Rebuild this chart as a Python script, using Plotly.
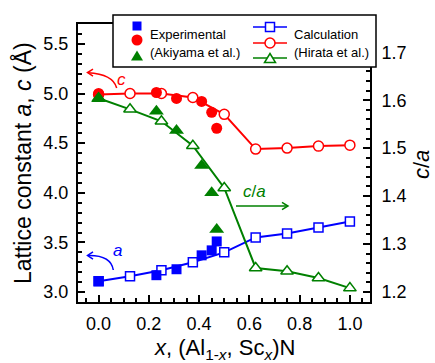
import plotly.graph_objects as go

# ---------------- data ----------------
x_calc = [0.0, 0.125, 0.25, 0.375, 0.5, 0.625, 0.75, 0.875, 1.0]
a_calc = [3.11, 3.16, 3.22, 3.30, 3.40, 3.55, 3.59, 3.65, 3.71]
c_calc = [4.99, 5.00, 5.00, 4.96, 4.79, 4.44, 4.45, 4.47, 4.48]
ca_calc = [1.604, 1.581, 1.556, 1.505, 1.417, 1.250, 1.243, 1.229, 1.208]

x_exp = [0.0, 0.23, 0.31, 0.41, 0.45, 0.47]
a_exp = [3.11, 3.17, 3.23, 3.37, 3.42, 3.51]
c_exp = [5.00, 5.01, 4.95, 4.92, 4.81, 4.65]
ca_exp = [1.603, 1.577, 1.537, 1.464, 1.407, 1.330]

x_ticks = [0.0, 0.2, 0.4, 0.6, 0.8, 1.0]
y_ticks = [3.0, 3.5, 4.0, 4.5, 5.0, 5.5]
y2_ticks = [1.2, 1.3, 1.4, 1.5, 1.6, 1.7]

BLUE = "#0000FF"
RED = "#FF0000"
GREEN = "#008000"
FONT = "Arial, Liberation Sans, sans-serif"

# ---------------- geometry helpers (pixel -> paper) ----------------
W, H = 435, 363
L, R, T, B = 78, 65, 24, 61
PW, PH = W - L - R, H - T - B


def px(X):
    return (X - L) / PW


def py(Y):
    return (H - B - Y) / PH


fig = go.Figure()

# calculation (open markers with lines)
fig.add_trace(go.Scatter(x=x_calc, y=a_calc, mode="lines+markers",
                         line=dict(color=BLUE, width=2),
                         marker=dict(symbol="square", size=9, color="white",
                                     line=dict(color=BLUE, width=1.5)),
                         showlegend=False))
fig.add_trace(go.Scatter(x=x_calc, y=c_calc, mode="lines+markers",
                         line=dict(color=RED, width=2),
                         marker=dict(symbol="circle", size=10, color="white",
                                     line=dict(color=RED, width=1.5)),
                         showlegend=False))
# experimental
fig.add_trace(go.Scatter(x=x_exp, y=a_exp, mode="markers",
                         marker=dict(symbol="square", size=10, color=BLUE),
                         showlegend=False))
fig.add_trace(go.Scatter(x=x_exp, y=c_exp, mode="markers",
                         marker=dict(symbol="circle", size=11, color=RED),
                         showlegend=False))
# c/a on right axis
fig.add_trace(go.Scatter(x=x_calc, y=ca_calc, yaxis="y2", mode="lines+markers",
                         line=dict(color=GREEN, width=2),
                         marker=dict(symbol="triangle-up", size=11, color="white",
                                     line=dict(color=GREEN, width=1.5)),
                         showlegend=False))
fig.add_trace(go.Scatter(x=x_exp, y=ca_exp, yaxis="y2", mode="markers",
                         marker=dict(symbol="triangle-up", size=13, color=GREEN),
                         showlegend=False))

axis_common = dict(showline=True, linecolor="black", linewidth=2, ticks="inside",
                   tickcolor="black", tickwidth=1.5, ticklen=7, showgrid=False,
                   zeroline=False, tickfont=dict(family=FONT, size=18, color="black"))

fig.update_layout(
    width=W, height=H,
    margin=dict(l=L, r=R, t=T, b=B, pad=0),
    paper_bgcolor="white", plot_bgcolor="white",
    showlegend=False,
    xaxis=dict(range=[-0.082, 1.08], tickvals=x_ticks, tickformat=".1f",
               mirror=True, ticklabelstandoff=4,
               minor=dict(dtick=0.05, tick0=0, ticks="inside", ticklen=4,
                          tickwidth=1.5, tickcolor="black"),
               **axis_common),
    yaxis=dict(range=[2.90, 5.70], tickvals=y_ticks, tickformat=".1f",
               ticklabelstandoff=4,
               minor=dict(dtick=0.1, tick0=0, ticks="inside", ticklen=4,
                          tickwidth=1.5, tickcolor="black"),
               **axis_common),
    yaxis2=dict(range=[1.179, 1.759], tickvals=y2_ticks, tickformat=".1f",
                overlaying="y", side="right", ticklabelstandoff=6,
                minor=dict(dtick=0.02, tick0=0, ticks="inside", ticklen=4,
                           tickwidth=1.5, tickcolor="black"),
                **axis_common),
)

shapes = []
# legend box
shapes.append(dict(type="rect", xref="paper", yref="paper", layer="above",
                   x0=px(113), x1=px(376), y0=py(67), y1=py(15),
                   fillcolor="white", line=dict(color="black", width=1.5)))


def sq(X, Y, s, fill, col, lw=0):
    return dict(type="rect", xref="paper", yref="paper", layer="above",
                x0=px(X - s / 2), x1=px(X + s / 2), y0=py(Y + s / 2), y1=py(Y - s / 2),
                fillcolor=fill, line=dict(color=col, width=lw))


def circ(X, Y, d, fill, col, lw=0):
    return dict(type="circle", xref="paper", yref="paper", layer="above",
                x0=px(X - d / 2), x1=px(X + d / 2), y0=py(Y + d / 2), y1=py(Y - d / 2),
                fillcolor=fill, line=dict(color=col, width=lw))


def tri(X, Y, w, h, fill, col, lw=0):
    p = "M {:.5f},{:.5f} L {:.5f},{:.5f} L {:.5f},{:.5f} Z".format(
        px(X - w / 2), py(Y + h / 2), px(X + w / 2), py(Y + h / 2), px(X), py(Y - h / 2))
    return dict(type="path", xref="paper", yref="paper", layer="above", path=p,
                fillcolor=fill, line=dict(color=col, width=lw))


def hline(X0, X1, Y, col):
    return dict(type="line", xref="paper", yref="paper", layer="above",
                x0=px(X0), x1=px(X1), y0=py(Y), y1=py(Y), line=dict(color=col, width=1.5))


def poly(points, col, closed=False):
    p = "M " + " L ".join("{:.5f},{:.5f}".format(px(X), py(Y)) for X, Y in points)
    if closed:
        p += " Z"
    return dict(type="path", xref="paper", yref="paper", layer="above", path=p,
                line=dict(color=col, width=1.5))


# experimental legend symbols
shapes.append(sq(137, 26, 9, BLUE, BLUE))
shapes.append(circ(137, 40, 11, RED, RED))
shapes.append(tri(137, 55.5, 12, 10, GREEN, GREEN))
# calculation legend symbols
shapes.append(hline(253, 287, 27, BLUE))
shapes.append(sq(270, 27, 9, "white", BLUE, 1.5))
shapes.append(hline(253, 287, 43, RED))
shapes.append(circ(270, 43, 10, "white", RED, 1.5))
shapes.append(hline(253, 287, 58, GREEN))
shapes.append(tri(270, 58, 11, 9, "white", GREEN, 1.5))

# curved arrows with open heads
shapes.append(dict(type="path", xref="paper", yref="paper", layer="above",
                   path="M {:.5f},{:.5f} Q {:.5f},{:.5f} {:.5f},{:.5f}".format(
                       px(116.7), py(88), px(113), py(74), px(88), py(72.7)),
                   line=dict(color=RED, width=1.5)))
shapes.append(poly([(93, 69.2), (87.5, 72.6), (93, 76.2)], RED))
shapes.append(dict(type="path", xref="paper", yref="paper", layer="above",
                   path="M {:.5f},{:.5f} Q {:.5f},{:.5f} {:.5f},{:.5f}".format(
                       px(113.3), py(270), px(111), py(255), px(88), py(255.5)),
                   line=dict(color=BLUE, width=1.5)))
shapes.append(poly([(93, 251.8), (87.5, 255.5), (93, 259.2)], BLUE))
# straight c/a arrow
shapes.append(hline(236, 288, 206, GREEN))
shapes.append(poly([(282, 202.3), (288, 206), (282, 209.7)], GREEN))

fig.update_layout(shapes=shapes)

ann = []


def txt(X, Y, text, size=13, color="black", xanchor="left", **kw):
    ann.append(dict(xref="paper", yref="paper", x=px(X), y=py(Y), text=text,
                    showarrow=False, xanchor=xanchor, yanchor="middle",
                    font=dict(family=FONT, size=size, color=color), **kw))


txt(148, 35, "Experimental")
txt(148, 52, "(Akiyama et al.)")
txt(292, 35, "Calculation")
txt(292, 52, "(Hirata et al.)")

txt(121.7, 79, "<i>c</i>", size=17, color=RED, xanchor="center")
txt(117.3, 250, "<i>a</i>", size=17, color=BLUE, xanchor="center")
txt(254, 191.5, "<i>c</i>/<i>a</i>", size=17, color=GREEN, xanchor="center")

# axis titles
txt(224, 349, "<i>x</i>, (Al<sub>1-<i>x</i></sub>, Sc<sub><i>x</i></sub>)N", size=22,
    xanchor="center")
txt(22, 163, "Lattice constant <i>a</i>, <i>c</i> (Å)", size=23, xanchor="center",
    textangle=-90)
txt(421, 165, "<i>c</i>/<i>a</i>", size=22, xanchor="center", textangle=-90)

fig.update_layout(annotations=ann)

fig.write_html("out.html")
